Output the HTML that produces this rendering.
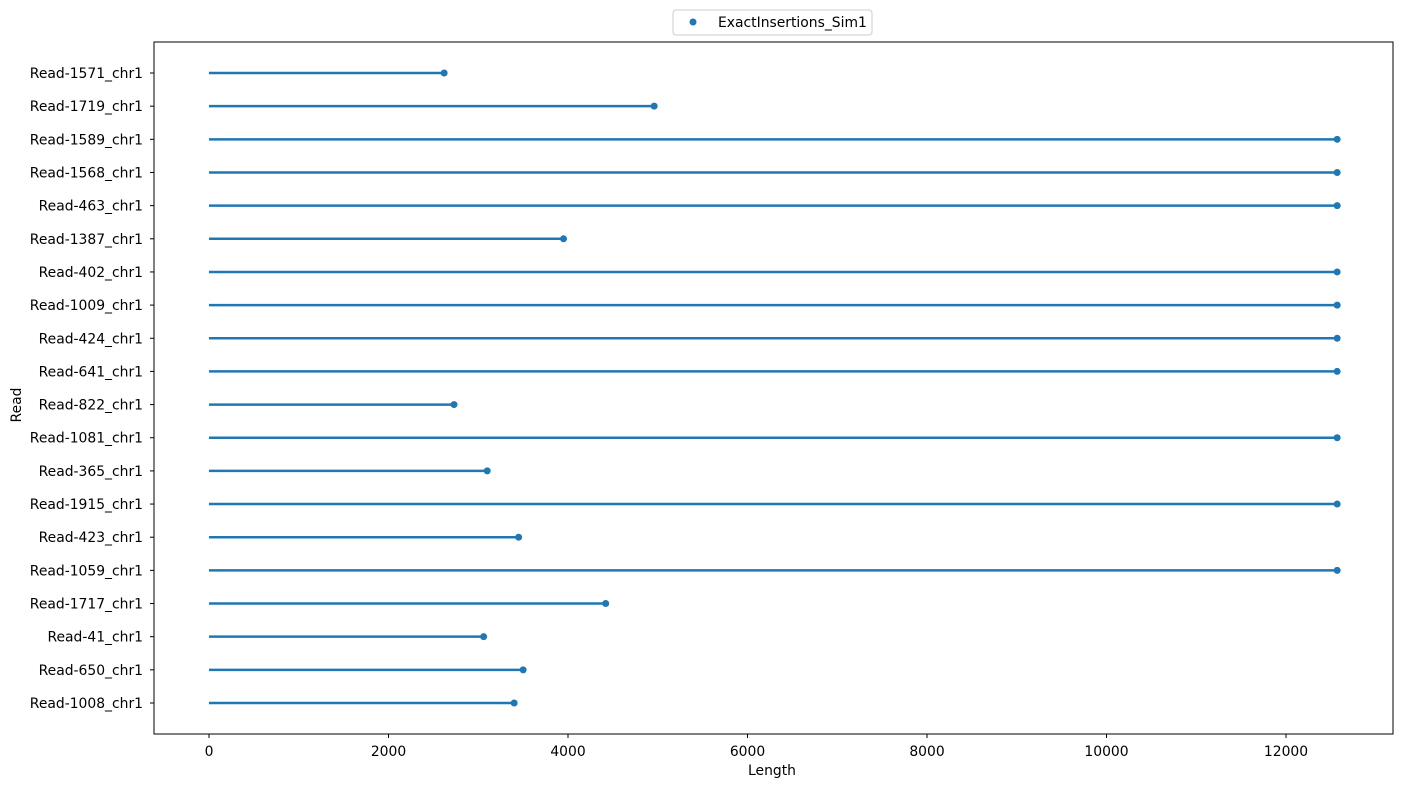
<!DOCTYPE html>
<html><head><meta charset="utf-8"><style>
body{margin:0;background:#fff;font-family:"Liberation Sans","DejaVu Sans",sans-serif;}
svg text{font-family:"DejaVu Sans","Liberation Sans",sans-serif;font-size:13.9px;fill:#000;}
</style></head><body>
<svg id="chart" width="1402" height="788" xmlns="http://www.w3.org/2000/svg">
<rect x="154" y="42" width="1239" height="692" fill="none" stroke="#000" stroke-width="1"/>
<g id="marks"></g>
<g id="yticks"></g>
<g id="xticks"></g>
<text x="772" y="775" text-anchor="middle">Length</text>
<text transform="translate(21,405) rotate(-90)" text-anchor="middle">Read</text>
<g>
<rect x="673" y="10" width="199" height="25" rx="3" fill="#fff" stroke="#ccc"/>
<circle cx="693" cy="22" r="3.5" fill="#1f77b4"/>
<text x="718" y="27">ExactInsertions_Sim1</text>
</g>
</svg>
<script>
const reads=["Read-1571_chr1","Read-1719_chr1","Read-1589_chr1","Read-1568_chr1","Read-463_chr1","Read-1387_chr1","Read-402_chr1","Read-1009_chr1","Read-424_chr1","Read-641_chr1","Read-822_chr1","Read-1081_chr1","Read-365_chr1","Read-1915_chr1","Read-423_chr1","Read-1059_chr1","Read-1717_chr1","Read-41_chr1","Read-650_chr1","Read-1008_chr1"];
const lengths=[2620,4960,12570,12570,12570,3950,12570,12570,12570,12570,2730,12570,3100,12570,3450,12570,4420,3060,3500,3400];
const xTicks=[0,2000,4000,6000,8000,10000,12000];
const NS="http://www.w3.org/2000/svg";
function xs(v){return 209+v*0.08975;}
function ys(i){return 73+i*(703-73)/(reads.length-1);}
function mk(tag,attrs,parent){const e=document.createElementNS(NS,tag);for(const k in attrs)e.setAttribute(k,attrs[k]);parent.appendChild(e);return e;}
const marks=document.getElementById('marks'),yt=document.getElementById('yticks'),xt=document.getElementById('xticks');
reads.forEach((r,i)=>{
  const y=ys(i);
  const l=mk('line',{x1:xs(0),x2:xs(lengths[i]),y1:y,y2:y,stroke:'#1f77b4','stroke-width':2.5},marks);
  
  
  const c=mk('circle',{cx:xs(lengths[i]),cy:y,r:3.5,fill:'#1f77b4'},marks);
  
  
  mk('line',{x1:150,x2:154,y1:y,y2:y,stroke:'#000'},yt);
  const t=mk('text',{x:143,y:y+5,'text-anchor':'end'},yt);t.textContent=r;
  
  
});
xTicks.forEach(v=>{
  const x=xs(v);
  mk('line',{x1:x,x2:x,y1:734,y2:738,stroke:'#000'},xt);
  const t=mk('text',{x:x,y:756,'text-anchor':'middle'},xt);t.textContent=v;
  
  
});
</script>
</body></html>
